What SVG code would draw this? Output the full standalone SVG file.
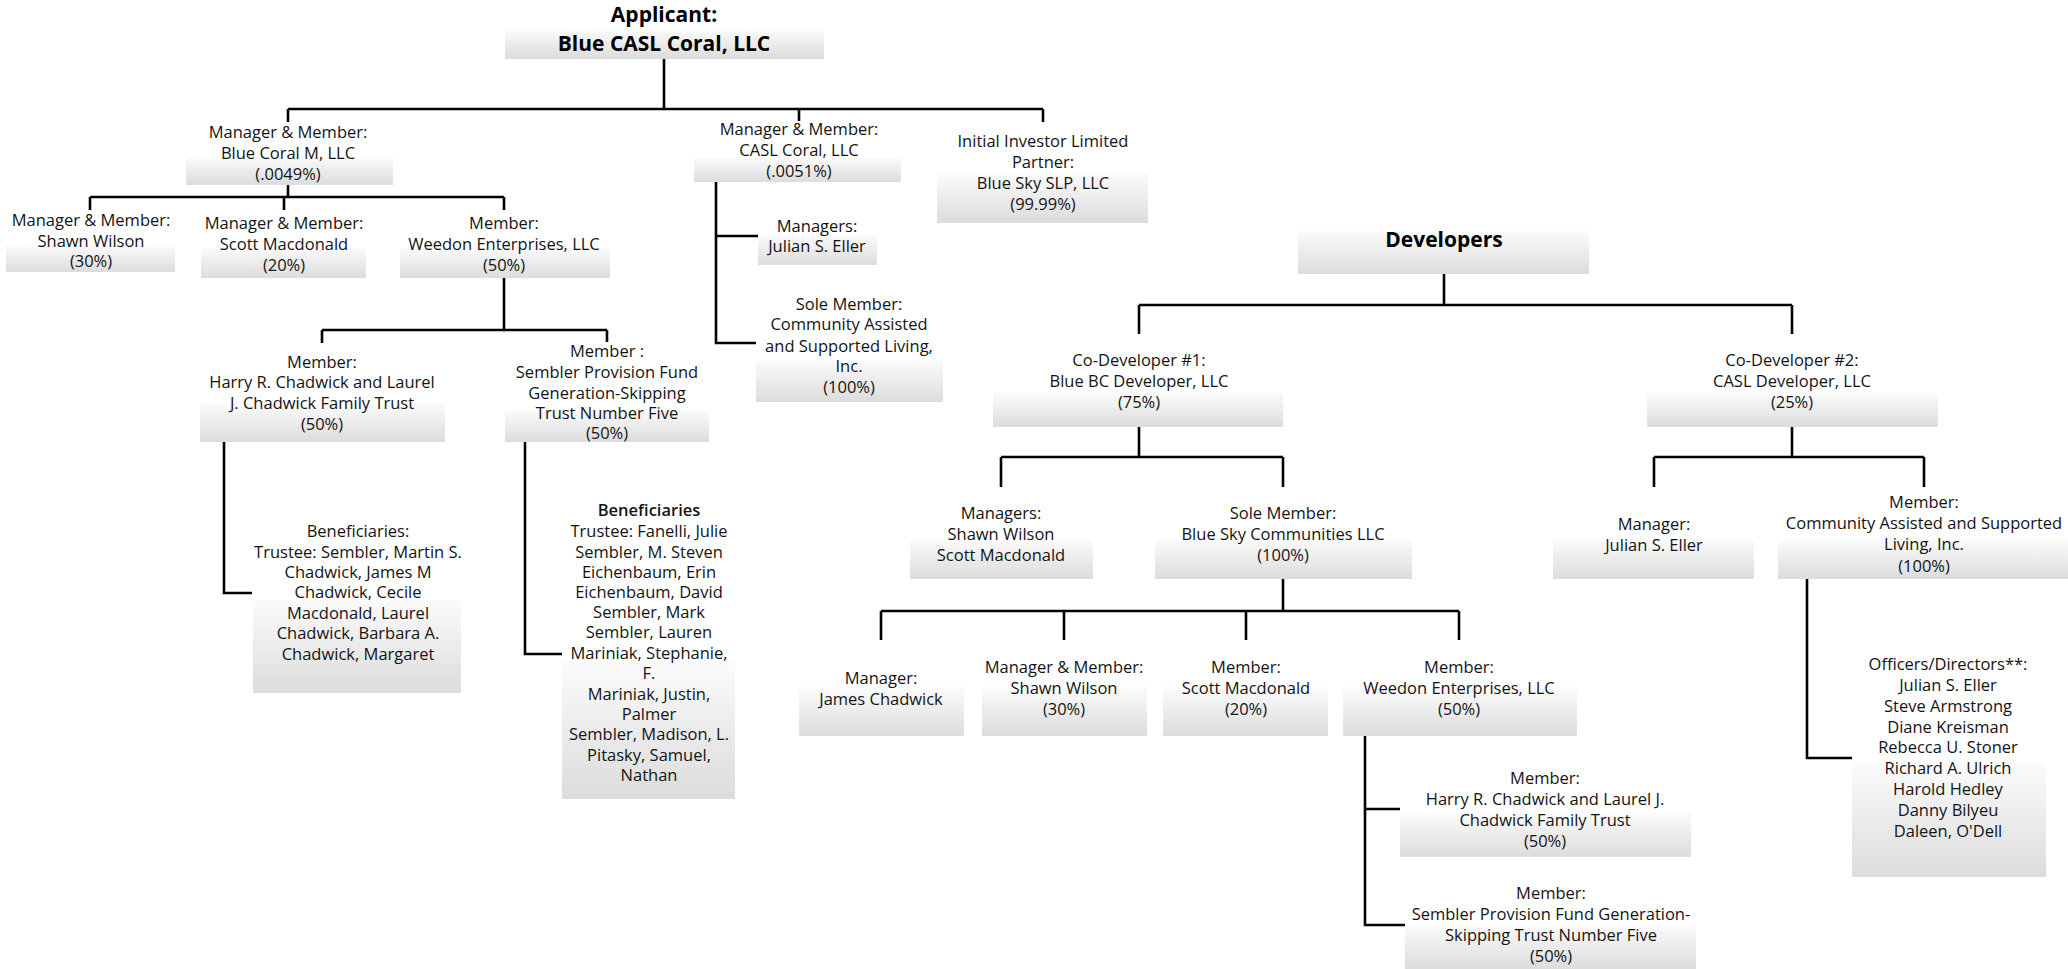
<svg xmlns="http://www.w3.org/2000/svg" width="2068" height="969" viewBox="0 0 2068 969">
<defs>
<linearGradient id="g" x1="0" y1="0" x2="0" y2="1">
<stop offset="0" stop-color="#fbfbfb"/>
<stop offset="1" stop-color="#dcdcdc"/>
</linearGradient>
<style>
.box{fill:url(#g);stroke:none}
.t{font-family:"Open Sans","Noto Sans","Liberation Sans",sans-serif;font-size:16.5px;fill:#141414;text-anchor:middle}
.b{font-family:"Open Sans","Noto Sans","Liberation Sans",sans-serif;font-size:21px;font-weight:700;fill:#000;text-anchor:middle}
.sb{font-weight:600}
.c path{fill:none;stroke:#000;stroke-width:2.6}
</style>
</defs>
<rect width="2068" height="969" fill="#fff"/>
<g class="c" id="connectors">
<path d="M664 59V109M288 109H1043M288 109V122M799 109V121M1043 109V122"/>
<path d="M288 185V197M90 197H504M90 197V210M284 197V210M504 197V210"/>
<path d="M504 278V330M322 330H607M322 330V343M607 330V342"/>
<path d="M224 442V593H252"/>
<path d="M525 442V654H562"/>
<path d="M716 182V343H756M716 236H758"/>
<path d="M1444 274V305M1139 305H1792M1139 305V334M1792 305V334"/>
<path d="M1139 427V457M1001 457H1283M1001 457V487M1283 457V487"/>
<path d="M1792 427V457M1654 457H1924M1654 457V487M1924 457V487"/>
<path d="M1283 579V611M881 611H1459M881 611V640M1064 611V640M1246 611V640M1459 611V640"/>
<path d="M1365 736V925H1405M1365 809H1400"/>
<path d="M1807 579V758H1852"/>
</g>
<g id="applicant"><rect class="box" x="505" y="29" width="319" height="30"/>
<text class="b"><tspan x="664" y="22">Applicant:</tspan><tspan x="664" y="51">Blue CASL Coral, LLC</tspan></text></g>
<g id="blue-coral-m"><rect class="box" x="186" y="157" width="207" height="28"/>
<text class="t"><tspan x="288" y="138">Manager &amp; Member:</tspan><tspan x="288" y="159">Blue Coral M, LLC</tspan><tspan x="288" y="180">(.0049%)</tspan></text></g>
<g id="casl-coral"><rect class="box" x="694" y="158" width="207" height="24"/>
<text class="t"><tspan x="799" y="135">Manager &amp; Member:</tspan><tspan x="799" y="156">CASL Coral, LLC</tspan><tspan x="799" y="177">(.0051%)</tspan></text></g>
<g id="initial-investor"><rect class="box" x="937" y="173" width="211" height="50"/>
<text class="t"><tspan x="1043" y="147">Initial Investor Limited</tspan><tspan x="1043" y="168">Partner:</tspan><tspan x="1043" y="189">Blue Sky SLP, LLC</tspan><tspan x="1043" y="210">(99.99%)</tspan></text></g>
<g id="shawn-wilson-1"><rect class="box" x="6" y="245" width="169" height="27"/>
<text class="t"><tspan x="91" y="226">Manager &amp; Member:</tspan><tspan x="91" y="247">Shawn Wilson</tspan><tspan x="91" y="267">(30%)</tspan></text></g>
<g id="scott-macdonald-1"><rect class="box" x="201" y="248" width="165" height="30"/>
<text class="t"><tspan x="284" y="229">Manager &amp; Member:</tspan><tspan x="284" y="250">Scott Macdonald</tspan><tspan x="284" y="271">(20%)</tspan></text></g>
<g id="weedon-1"><rect class="box" x="400" y="248" width="210" height="30"/>
<text class="t"><tspan x="504" y="229">Member:</tspan><tspan x="504" y="250">Weedon Enterprises, LLC</tspan><tspan x="504" y="271">(50%)</tspan></text></g>
<g id="casl-managers"><rect class="box" x="758" y="235" width="119" height="30"/>
<text class="t"><tspan x="817" y="232">Managers:</tspan><tspan x="817" y="252">Julian S. Eller</tspan></text></g>
<g id="casl-sole-member"><rect class="box" x="756" y="360" width="187" height="42"/>
<text class="t"><tspan x="849" y="310">Sole Member:</tspan><tspan x="849" y="330">Community Assisted</tspan><tspan x="849" y="352">and Supported Living,</tspan><tspan x="849" y="372">Inc.</tspan><tspan x="849" y="393">(100%)</tspan></text></g>
<g id="harry-trust-1"><rect class="box" x="200" y="403" width="245" height="39"/>
<text class="t"><tspan x="322" y="368">Member:</tspan><tspan x="322" y="388">Harry R. Chadwick and Laurel</tspan><tspan x="322" y="409">J. Chadwick Family Trust</tspan><tspan x="322" y="430">(50%)</tspan></text></g>
<g id="sembler-1"><rect class="box" x="505" y="410" width="204" height="32"/>
<text class="t"><tspan x="607" y="357">Member :</tspan><tspan x="607" y="378">Sembler Provision Fund</tspan><tspan x="607" y="399">Generation-Skipping</tspan><tspan x="607" y="419">Trust Number Five</tspan><tspan x="607" y="439">(50%)</tspan></text></g>
<g id="beneficiaries-1"><rect class="box" x="253" y="600" width="208" height="93"/>
<text class="t"><tspan x="358" y="537">Beneficiaries:</tspan><tspan x="358" y="558">Trustee: Sembler, Martin S.</tspan><tspan x="358" y="578">Chadwick, James M</tspan><tspan x="358" y="598">Chadwick, Cecile</tspan><tspan x="358" y="619">Macdonald, Laurel</tspan><tspan x="358" y="639">Chadwick, Barbara A.</tspan><tspan x="358" y="660">Chadwick, Margaret</tspan></text></g>
<g id="beneficiaries-2"><rect class="box" x="562" y="662" width="173" height="137"/>
<text class="t"><tspan x="649" y="516" class="sb">Beneficiaries</tspan><tspan x="649" y="537">Trustee: Fanelli, Julie</tspan><tspan x="649" y="558">Sembler, M. Steven</tspan><tspan x="649" y="578">Eichenbaum, Erin</tspan><tspan x="649" y="598">Eichenbaum, David</tspan><tspan x="649" y="618">Sembler, Mark</tspan><tspan x="649" y="638">Sembler, Lauren</tspan><tspan x="649" y="659">Mariniak, Stephanie,</tspan><tspan x="649" y="679">F.</tspan><tspan x="649" y="700">Mariniak, Justin,</tspan><tspan x="649" y="720">Palmer</tspan><tspan x="649" y="740">Sembler, Madison, L.</tspan><tspan x="649" y="761">Pitasky, Samuel,</tspan><tspan x="649" y="781">Nathan</tspan></text></g>
<g id="developers"><rect class="box" x="1298" y="231" width="291" height="43"/>
<text class="b"><tspan x="1444" y="247">Developers</tspan></text></g>
<g id="co-developer-1"><rect class="box" x="993" y="393" width="290" height="34"/>
<text class="t"><tspan x="1139" y="366">Co-Developer #1:</tspan><tspan x="1139" y="387">Blue BC Developer, LLC</tspan><tspan x="1139" y="408">(75%)</tspan></text></g>
<g id="co-developer-2"><rect class="box" x="1647" y="393" width="291" height="34"/>
<text class="t"><tspan x="1792" y="366">Co-Developer #2:</tspan><tspan x="1792" y="387">CASL Developer, LLC</tspan><tspan x="1792" y="408">(25%)</tspan></text></g>
<g id="bc-managers"><rect class="box" x="910" y="540" width="183" height="39"/>
<text class="t"><tspan x="1001" y="519">Managers:</tspan><tspan x="1001" y="540">Shawn Wilson</tspan><tspan x="1001" y="561">Scott Macdonald</tspan></text></g>
<g id="blue-sky-communities"><rect class="box" x="1155" y="540" width="257" height="39"/>
<text class="t"><tspan x="1283" y="519">Sole Member:</tspan><tspan x="1283" y="540">Blue Sky Communities LLC</tspan><tspan x="1283" y="561">(100%)</tspan></text></g>
<g id="casl-dev-manager"><rect class="box" x="1553" y="540" width="201" height="39"/>
<text class="t"><tspan x="1654" y="530">Manager:</tspan><tspan x="1654" y="551">Julian S. Eller</tspan></text></g>
<g id="casl-dev-member"><rect class="box" x="1778" y="540" width="290" height="39"/>
<text class="t"><tspan x="1924" y="508">Member:</tspan><tspan x="1924" y="529">Community Assisted and Supported</tspan><tspan x="1924" y="550">Living, Inc.</tspan><tspan x="1924" y="572">(100%)</tspan></text></g>
<g id="james-chadwick"><rect class="box" x="799" y="687" width="165" height="49"/>
<text class="t"><tspan x="881" y="684">Manager:</tspan><tspan x="881" y="705">James Chadwick</tspan></text></g>
<g id="shawn-wilson-2"><rect class="box" x="982" y="687" width="165" height="49"/>
<text class="t"><tspan x="1064" y="673">Manager &amp; Member:</tspan><tspan x="1064" y="694">Shawn Wilson</tspan><tspan x="1064" y="715">(30%)</tspan></text></g>
<g id="scott-macdonald-2"><rect class="box" x="1163" y="687" width="165" height="49"/>
<text class="t"><tspan x="1246" y="673">Member:</tspan><tspan x="1246" y="694">Scott Macdonald</tspan><tspan x="1246" y="715">(20%)</tspan></text></g>
<g id="weedon-2"><rect class="box" x="1343" y="687" width="234" height="49"/>
<text class="t"><tspan x="1459" y="673">Member:</tspan><tspan x="1459" y="694">Weedon Enterprises, LLC</tspan><tspan x="1459" y="715">(50%)</tspan></text></g>
<g id="harry-trust-2"><rect class="box" x="1400" y="813" width="291" height="44"/>
<text class="t"><tspan x="1545" y="784">Member:</tspan><tspan x="1545" y="805">Harry R. Chadwick and Laurel J.</tspan><tspan x="1545" y="826">Chadwick Family Trust</tspan><tspan x="1545" y="847">(50%)</tspan></text></g>
<g id="sembler-2"><rect class="box" x="1405" y="925" width="291" height="44"/>
<text class="t"><tspan x="1551" y="899">Member:</tspan><tspan x="1551" y="920">Sembler Provision Fund Generation-</tspan><tspan x="1551" y="941">Skipping Trust Number Five</tspan><tspan x="1551" y="962">(50%)</tspan></text></g>
<g id="officers-directors"><rect class="box" x="1852" y="763" width="194" height="114"/>
<text class="t"><tspan x="1948" y="670">Officers/Directors**:</tspan><tspan x="1948" y="691">Julian S. Eller</tspan><tspan x="1948" y="712">Steve Armstrong</tspan><tspan x="1948" y="733">Diane Kreisman</tspan><tspan x="1948" y="753">Rebecca U. Stoner</tspan><tspan x="1948" y="774">Richard A. Ulrich</tspan><tspan x="1948" y="795">Harold Hedley</tspan><tspan x="1948" y="816">Danny Bilyeu</tspan><tspan x="1948" y="837">Daleen, O'Dell</tspan></text></g>
</svg>
